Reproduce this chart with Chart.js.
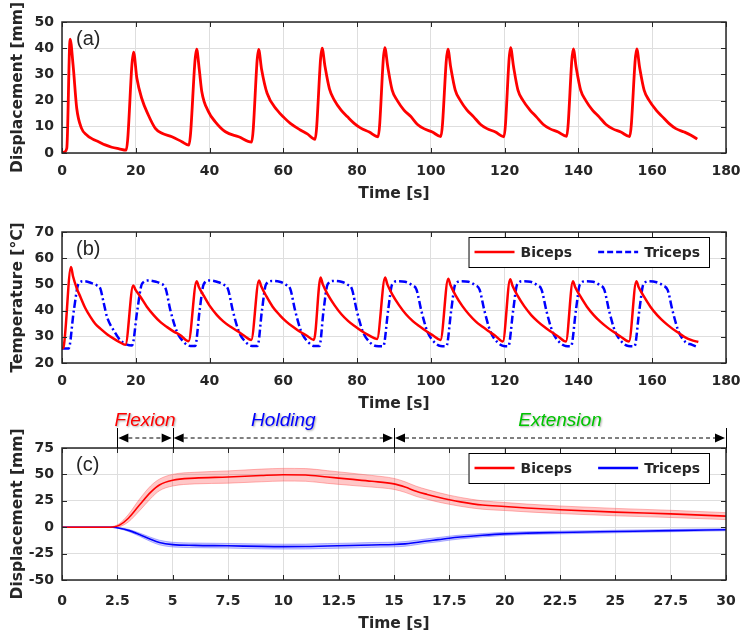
<!DOCTYPE html>
<html>
<head>
<meta charset="utf-8">
<title>Cyclic displacement and temperature</title>
<script src="https://cdn.jsdelivr.net/npm/chart.js@4.4.1/dist/chart.umd.min.js"></script>
<style>
  body { margin: 0; background: #fff; }
  #wrap { position: relative; width: 743px; height: 638px; overflow: hidden; }
  canvas { position: absolute; left: 0; }
</style>
</head>
<body>
<div id="wrap">
  <canvas id="chartA" width="743" height="203" style="top:0"></canvas>
  <canvas id="chartB" width="743" height="210" style="top:203px"></canvas>
  <canvas id="chartC" width="743" height="238" style="top:395px"></canvas>
</div>
<script>
// (a) displacement over the cyclic test
const timeA = [0, 0.6, 1.3, 2.2, 3.0, 4.0, 5.3, 6.7, 8.2, 9.9, 11.7, 13.5, 15.5, 17.4,
  19.4, 20.3, 21.6, 23.4, 25.3, 27.1, 29.8, 32.5, 34.4,
  36.5, 37.2, 37.9, 39.7, 41.5, 44.3, 47.9, 51.4,
  53.3, 54.1, 55.6, 58.3, 60.2, 61.9, 64.6, 66.5, 68.6,
  70.5, 71.3, 72.5, 73.9, 75.6, 77.4, 79.2, 81.0, 83.3, 85.7,
  87.5, 88.3, 89.5, 90.9, 92.7, 94.5, 96.3, 98.1, 100.4, 102.7,
  104.6, 105.4, 106.6, 108.0, 109.8, 111.6, 113.4, 115.2, 117.5, 119.8,
  121.6, 122.4, 123.6, 125.0, 126.8, 128.6, 130.4, 132.2, 134.5, 136.8,
  138.6, 139.4, 140.6, 142.0, 143.8, 145.6, 147.4, 149.2, 151.5, 153.9,
  155.8, 156.6, 157.8, 159.2, 161.0, 162.8, 164.6, 166.4, 168.7, 170.5, 172.2];
const dispA = [0, 0.3, 1.8, 43.5, 33.6, 17, 9.4, 6.9, 5.4, 4.3, 3.1, 2.2, 1.6, 1.1,
  38.5, 28.5, 20.9, 14.5, 9.4, 7.5, 6.2, 4.3, 3.0,
  39.6, 32, 23.4, 15.8, 12, 8.1, 6.2, 4.2,
  39.5, 32, 22.8, 16.4, 13.5, 11.3, 8.8, 7.3, 5.2,
  40, 33, 24.5, 20, 16.5, 13.8, 11.3, 9.5, 8, 6.2,
  40.2, 33, 24, 20, 16.4, 14, 11, 9.3, 8, 6.3,
  39.6, 32.5, 24, 20, 16.4, 13.8, 11, 9.3, 8, 6.2,
  40.2, 33, 24, 20, 16.5, 13.8, 11, 9.3, 8, 6.4,
  39.7, 32.5, 24, 20, 16.4, 13.8, 11, 9.3, 8, 6.3,
  39.7, 32.5, 24, 20, 16.5, 13.8, 11.2, 9.3, 8, 6.8, 5.3];

// (b) skin temperature, biceps and triceps
const timeBic = [0, 0.4, 2.44, 3.0, 4.0, 5.0, 6.3, 7.7, 9.0, 10.4, 12.2, 14.0, 15.6, 17.2,
  19.3, 19.9, 21.3, 23.0, 24.9, 26.7, 28.5, 30.3, 32.1, 34.3,
  36.5, 37.1, 38.5, 40.2, 42.0, 43.8, 45.7, 47.5, 49.3, 51.3,
  53.4, 54.0, 55.4, 57.1, 59.0, 60.8, 62.6, 64.4, 66.3, 68.3,
  70.1, 70.7, 72.1, 73.9, 75.8, 77.6, 79.4, 81.2, 83.1, 85.4,
  87.6, 88.2, 89.6, 91.4, 93.3, 95.1, 96.9, 98.7, 100.6, 102.6,
  104.7, 105.3, 106.7, 108.5, 110.4, 112.2, 114.0, 115.8, 117.6, 119.5,
  121.5, 122.1, 123.5, 125.3, 127.2, 129.0, 130.8, 132.6, 134.5, 136.6,
  138.5, 139.1, 140.5, 142.3, 144.2, 146.0, 147.8, 149.6, 151.5, 153.7,
  155.7, 156.3, 157.7, 159.5, 161.4, 163.2, 165.0, 166.8, 168.7, 170.5, 172.5];
const tempBic = [25.5, 26, 56.6, 53, 48.5, 45.2, 41, 37.6, 35, 33.1, 31, 29.3, 28, 27,
  49.6, 48, 45.2, 41.5, 38.2, 35.6, 33.7, 32, 30.6, 28.3,
  51.2, 49, 45.5, 41.5, 38.3, 35.8, 33.8, 32.2, 30.5, 28.8,
  51.5, 49.3, 45.5, 41.5, 38.3, 35.8, 33.8, 32, 30.5, 28.8,
  52.6, 50, 46, 42, 38.5, 36, 34, 32.2, 30.6, 29.2,
  52.6, 50, 46, 42, 38.5, 36, 34, 32.2, 30.5, 28.8,
  52.2, 49.8, 45.8, 41.8, 38.4, 35.8, 33.8, 32, 30.2, 28.2,
  52, 49.6, 45.7, 41.7, 38.3, 35.8, 33.7, 31.9, 30.1, 28.2,
  51.2, 49, 45.5, 41.5, 38.2, 35.7, 33.6, 31.8, 30, 28.2,
  51.2, 49, 45.5, 41.5, 38.2, 35.7, 33.6, 31.8, 30, 28.8, 28];
const timeTri = [0, 1.8, 3.2, 4.5, 5.9, 8.0, 9.5, 10.4, 11.3, 12.2, 14.0, 15.8, 17.6, 19.0,
  20.4, 21.7, 23.5, 25.5, 26.7, 28.1, 29.4, 31.2, 33.0, 34.8, 36.1,
  37.3, 38.4, 40.0, 42.0, 43.7, 45.0, 46.3, 48.0, 49.8, 51.5, 53.0,
  54.2, 55.3, 57.0, 59.0, 60.6, 61.9, 63.2, 64.9, 66.7, 68.4, 69.8,
  70.9, 72.0, 73.7, 75.7, 77.3, 78.6, 79.9, 81.6, 83.4, 85.1, 87.1,
  88.4, 89.5, 91.0, 93.0, 94.8, 96.1, 97.4, 99.1, 100.9, 102.6, 104.2,
  105.5, 106.6, 108.2, 110.2, 111.9, 113.2, 114.5, 116.2, 118.0, 119.7, 121.0,
  122.3, 123.4, 125.0, 127.0, 128.7, 130.0, 131.3, 133.0, 134.8, 136.5, 138.0,
  139.3, 140.4, 142.0, 144.0, 145.7, 147.0, 148.3, 150.0, 151.8, 153.5, 155.2,
  156.5, 157.6, 159.2, 161.2, 162.9, 164.2, 165.5, 167.2, 169.0, 170.7, 172.5];
const tempTri = [25.5, 25.5, 40, 50.3, 51.2, 50.5, 49.6, 48.4, 43, 37.6, 32.5, 28.7, 27, 26.7,
  40, 50.3, 51.5, 51, 50.3, 48.4, 40, 31.8, 28, 26.5, 26.5,
  40, 50, 51.5, 51, 50, 48.2, 40, 31.8, 28, 26.5, 26.5,
  40, 50, 51.3, 51, 50, 48.2, 40, 31.8, 28, 26.5, 26.5,
  40, 50, 51.3, 51, 50, 48.2, 40, 31.8, 28, 26.5, 26.4,
  40, 50, 51.2, 51, 49.8, 48, 40, 31.8, 28, 26.5, 26.4,
  40, 50, 51.2, 51, 49.8, 48, 40, 31.8, 28, 26.5, 26.4,
  40, 50, 51.2, 51, 49.8, 48, 40, 31.8, 28, 26.5, 26.4,
  40, 50, 51.2, 51, 49.8, 48, 40, 31.8, 28, 26.5, 26.4,
  40, 50, 51.2, 50.8, 49.6, 47.8, 40, 31.8, 28, 27, 26];

// (c) mean displacement +/- sd over one flexion/holding/extension cycle
const timeC = [0, 1, 2, 2.3, 2.6, 3.0, 3.5, 4.0, 4.4, 5.0, 6.0, 7.5, 9, 10, 11, 12, 13, 14, 15,
  15.5, 16, 16.5, 17, 17.5, 18, 19, 20, 21, 22.5, 25, 27.5, 30];
const bicepsC = [0, 0, 0, 0.2, 2, 8.5, 21, 33, 40, 44.5, 46.5, 47.5, 49, 49.7, 49.5, 47.5, 45.5, 43.5, 41,
  38, 34, 31, 28.3, 26, 24, 21, 19.6, 18.2, 16.5, 14.3, 12.6, 10.5];
const bicepsSd = [0, 0, 0, 0.5, 1.5, 3.5, 5.5, 6, 5.5, 5.5, 5.5, 5.8, 6, 6, 6, 6, 5.8, 5.5, 5.2,
  5, 4.8, 4.6, 4.5, 4.3, 4.2, 4, 3.8, 3.7, 3.6, 3.5, 3.4, 3.3];
const tricepsC = [0, 0, 0, -0.1, -1, -3, -7, -11.5, -14.5, -16.5, -17.2, -17.6, -18.2, -18.4, -18.3, -17.8, -17.4, -16.8, -16.4,
  -15.8, -14.5, -13, -11.8, -10.4, -9.3, -7.6, -6.3, -5.6, -5, -4.1, -3.2, -2.4];
const tricepsSd = [0, 0, 0, 0.2, 0.5, 1, 1.5, 2, 2.2, 2.2, 2.2, 2.2, 2.3, 2.3, 2.3, 2.3, 2.3, 2.3, 2.2,
  2.2, 2.1, 2, 2, 1.9, 1.8, 1.6, 1.5, 1.4, 1.3, 1.2, 1.1, 1];

const phaseEdges = [2.5, 5, 15, 30];
const phaseNames = ['Flexion', 'Holding', 'Extension'];

const ticksLong = [0, 20, 40, 60, 80, 100, 120, 140, 160, 180];
const ticksDispA = [0, 10, 20, 30, 40, 50];
const ticksTemp = [20, 30, 40, 50, 60, 70];
const ticksTimeC = [0, 2.5, 5, 7.5, 10, 12.5, 15, 17.5, 20, 22.5, 25, 27.5, 30];
const ticksDispC = [-50, -25, 0, 25, 50, 75];

const ink = '#262626';
const tickFont = { family: '"DejaVu Sans", sans-serif', size: 14, weight: 'bold' };
const titleFont = { family: '"DejaVu Sans", sans-serif', size: 15.5, weight: 'bold' };

const pts = (xs, ys) => xs.map((x, i) => ({ x: x, y: ys[i] }));

function xAxis(min, max, ticks, height, pad) {
  return {
    type: 'linear', min: min, max: max,
    afterBuildTicks: s => { s.ticks = ticks.map(v => ({ value: v })); },
    // fixed height, and no extra side room for the end labels
    afterFit: s => { s.height = height; s.paddingLeft = 0; s.paddingRight = 0; },
    grid: { color: '#dedede', drawTicks: false },
    border: { display: false },
    ticks: { color: ink, font: tickFont, padding: pad, autoSkip: false, maxRotation: 0 },
    title: { display: true, text: 'Time [s]', color: ink, font: titleFont, padding: 0 }
  };
}

function yAxis(min, max, ticks, title) {
  return {
    min: min, max: max,
    afterBuildTicks: s => { s.ticks = ticks.map(v => ({ value: v })); },
    afterFit: s => { s.width = 62; },
    grid: { color: '#dedede', drawTicks: false },
    border: { display: false },
    ticks: { color: ink, font: tickFont, padding: 8, autoSkip: false },
    title: { display: true, text: title, color: ink, font: titleFont, padding: { top: 9, bottom: 0 } }
  };
}

// box, inward tick marks, panel tag and in-axes legend
const frame = {
  id: 'frame',
  afterDraw(chart, args, opts) {
    const { ctx, chartArea: a, scales } = chart;
    ctx.save();
    ctx.strokeStyle = ink;
    ctx.lineWidth = 1;
    ctx.beginPath();
    scales.x.ticks.forEach(t => {
      const px = Math.round(scales.x.getPixelForValue(t.value)) + 0.5;
      ctx.moveTo(px, a.bottom); ctx.lineTo(px, a.bottom - 5);
      ctx.moveTo(px, a.top); ctx.lineTo(px, a.top + 5);
    });
    scales.y.ticks.forEach(t => {
      const py = Math.round(scales.y.getPixelForValue(t.value)) + 0.5;
      ctx.moveTo(a.left, py); ctx.lineTo(a.left + 5, py);
      ctx.moveTo(a.right, py); ctx.lineTo(a.right - 5, py);
    });
    ctx.stroke();
    ctx.lineWidth = 1.5;
    ctx.strokeRect(a.left, a.top, a.right - a.left, a.bottom - a.top);

    ctx.fillStyle = ink;
    ctx.font = '20px "Liberation Sans", Arial, sans-serif';
    ctx.textBaseline = 'middle';
    ctx.textAlign = 'left';
    ctx.fillText(opts.tag, a.left + 14, a.top + 17);

    const items = chart.data.datasets.filter(d => d.inLegend);
    if (items.length) {
      ctx.font = 'bold 14px "DejaVu Sans", sans-serif';
      const widths = items.map(d => ctx.measureText(d.label).width);
      let total = 6;
      items.forEach((d, i) => { total += 46 + widths[i] + (i < items.length - 1 ? 26 : 9); });
      const bx = a.right - 17 - total, by = a.top + 5, bh = 30;
      ctx.fillStyle = '#fff';
      ctx.fillRect(bx, by, total, bh);
      ctx.strokeStyle = '#000';
      ctx.lineWidth = 1;
      ctx.strokeRect(bx + 0.5, by + 0.5, total, bh);
      let x = bx + 6;
      items.forEach((d, i) => {
        ctx.strokeStyle = d.borderColor;
        ctx.lineWidth = d.legendWidth || d.borderWidth;
        ctx.setLineDash(d.legendDash || []);
        ctx.beginPath();
        ctx.moveTo(x, by + bh / 2); ctx.lineTo(x + 40, by + bh / 2);
        ctx.stroke();
        ctx.setLineDash([]);
        x += 46;
        ctx.fillStyle = ink;
        ctx.fillText(d.label, x, by + bh / 2 + 1);
        x += widths[i] + 26;
      });
    }
    ctx.restore();
  }
};

// phase arrows above panel (c)
const phases = {
  id: 'phases',
  afterDraw(chart, args, opts) {
    if (!opts.edges) return;
    const { ctx, chartArea: a, scales } = chart;
    const ay = a.top - 10;
    ctx.save();
    ctx.strokeStyle = '#000';
    ctx.fillStyle = '#000';
    ctx.lineWidth = 1;
    opts.edges.forEach(v => {
      const px = Math.round(scales.x.getPixelForValue(v)) + 0.5;
      ctx.beginPath(); ctx.moveTo(px, a.top - 20); ctx.lineTo(px, a.top); ctx.stroke();
    });
    for (let i = 0; i < opts.edges.length - 1; i++) {
      const x1 = scales.x.getPixelForValue(opts.edges[i]) + 1;
      const x2 = scales.x.getPixelForValue(opts.edges[i + 1]) - 1;
      ctx.setLineDash([4, 3]);
      ctx.beginPath(); ctx.moveTo(x1 + 10, ay); ctx.lineTo(x2 - 10, ay); ctx.stroke();
      ctx.setLineDash([]);
      ctx.beginPath();
      ctx.moveTo(x1, ay); ctx.lineTo(x1 + 10, ay - 4.5); ctx.lineTo(x1 + 10, ay + 4.5); ctx.closePath();
      ctx.moveTo(x2, ay); ctx.lineTo(x2 - 10, ay - 4.5); ctx.lineTo(x2 - 10, ay + 4.5); ctx.closePath();
      ctx.fill();

      ctx.save();
      ctx.font = 'italic 19px "Liberation Sans", Arial, sans-serif';
      ctx.textAlign = 'center';
      ctx.textBaseline = 'middle';
      ctx.shadowColor = 'rgba(0,0,0,0.35)';
      ctx.shadowOffsetX = 1; ctx.shadowOffsetY = 1; ctx.shadowBlur = 2;
      ctx.fillStyle = opts.colors[i];
      ctx.fillText(opts.names[i], (x1 + x2) / 2, a.top - 27);
      ctx.restore();
    }
    ctx.restore();
  }
};

function baseOptions(padTop, plugOpts) {
  return {
    responsive: false,
    animation: false,
    events: [],
    layout: { padding: { top: padTop, right: 17, left: 0, bottom: 0 } },
    elements: { point: { radius: 0 }, line: { cubicInterpolationMode: 'monotone' } },
    plugins: Object.assign({ legend: { display: false }, tooltip: { enabled: false } }, plugOpts)
  };
}

const optsA = baseOptions(22, { frame: { tag: '(a)' } });
optsA.scales = { x: xAxis(0, 180, ticksLong, 50, 10), y: yAxis(0, 50, ticksDispA, 'Displacement [mm]') };
new Chart(document.getElementById('chartA'), {
  type: 'line',
  data: { datasets: [{ data: pts(timeA, dispA), borderColor: '#ff0000', borderWidth: 2.8, fill: false }] },
  options: optsA,
  plugins: [frame]
});

const optsB = baseOptions(29, { frame: { tag: '(b)' } });
optsB.scales = { x: xAxis(0, 180, ticksLong, 50, 10), y: yAxis(20, 70, ticksTemp, 'Temperature [°C]') };
new Chart(document.getElementById('chartB'), {
  type: 'line',
  data: {
    datasets: [
      { label: 'Biceps', inLegend: true, data: pts(timeBic, tempBic), borderColor: '#ff0000', borderWidth: 2.5, fill: false, order: 1 },
      { label: 'Triceps', inLegend: true, data: pts(timeTri, tempTri), borderColor: '#0000ff', borderWidth: 2.5,
        borderDash: [8, 3, 2, 3], legendDash: [6, 3], fill: false, order: 2 }
    ]
  },
  options: optsB,
  plugins: [frame]
});

const optsC = baseOptions(53, {
  frame: { tag: '(c)' },
  phases: { edges: phaseEdges, names: phaseNames, colors: ['#ff0000', '#0000ff', '#00c400'] }
});
optsC.scales = { x: xAxis(0, 30, ticksTimeC, 53, 13), y: yAxis(-50, 75, ticksDispC, 'Displacement [mm]') };
new Chart(document.getElementById('chartC'), {
  type: 'line',
  data: {
    datasets: [
      { data: pts(timeC, bicepsC.map((v, i) => v + bicepsSd[i])), borderColor: 'rgba(255,90,90,0.45)', borderWidth: 1, fill: false, order: 3 },
      { data: pts(timeC, bicepsC.map((v, i) => v - bicepsSd[i])), borderColor: 'rgba(255,90,90,0.45)', borderWidth: 1,
        fill: '-1', backgroundColor: 'rgba(255,0,0,0.22)', order: 3 },
      { data: pts(timeC, tricepsC.map((v, i) => v + tricepsSd[i])), borderColor: 'rgba(90,90,255,0.45)', borderWidth: 1, fill: false, order: 3 },
      { data: pts(timeC, tricepsC.map((v, i) => v - tricepsSd[i])), borderColor: 'rgba(90,90,255,0.45)', borderWidth: 1,
        fill: '-1', backgroundColor: 'rgba(0,0,255,0.2)', order: 3 },
      { label: 'Biceps', inLegend: true, data: pts(timeC, bicepsC), borderColor: '#ff0000', borderWidth: 1.6, legendWidth: 2.5, fill: false, order: 1 },
      { label: 'Triceps', inLegend: true, data: pts(timeC, tricepsC), borderColor: '#0000ff', borderWidth: 1.6, legendWidth: 2.5, fill: false, order: 1 }
    ]
  },
  options: optsC,
  plugins: [frame, phases]
});
</script>
</body>
</html>
